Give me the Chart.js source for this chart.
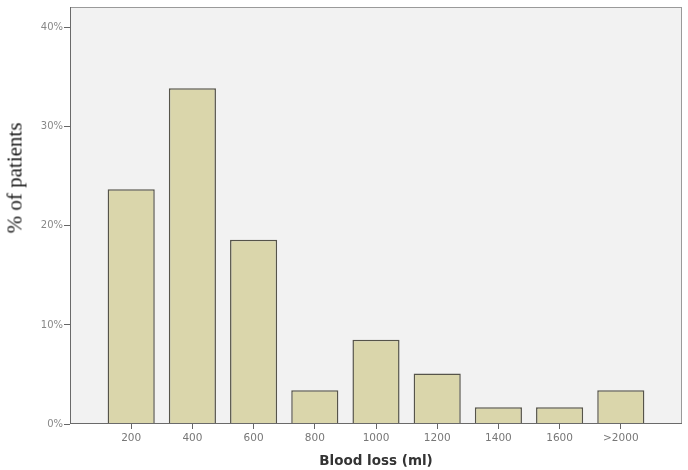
<!DOCTYPE html>
<html>
<head>
<meta charset="utf-8">
<script src="https://cdn.jsdelivr.net/npm/chart.js@4"></script>
<style>
html,body{margin:0;padding:0;background:#fff;}
#wrap{position:relative;width:688px;height:470px;}
#ytitle{position:absolute;left:15px;top:178px;transform:translate(-50%,-50%) rotate(-90deg);font-family:"Liberation Serif",serif;font-size:21px;color:#1a1a1a;white-space:nowrap;}
</style>
</head>
<body>
<div id="wrap">
<canvas id="c" width="688" height="470"></canvas>
<div id="ytitle">% of patients</div>
</div>
<script>
const categories = ['', '200', '400', '600', '800', '1000', '1200', '1400', '1600', '>2000', ''];
const percentPatients = [null, 23.7, 33.9, 18.6, 3.4, 8.5, 5.1, 1.7, 1.7, 3.4, null];
const yTicks = [0, 10, 20, 30, 40];
const xTitle = 'Blood loss (ml)';

const frame = {
  id: 'frame',
  beforeDraw(chart) {
    const {ctx, chartArea: a} = chart;
    ctx.save();
    ctx.fillStyle = '#f2f2f2';
    ctx.fillRect(a.left, a.top, a.right - a.left, a.bottom - a.top);
    ctx.restore();
  },
  afterDraw(chart) {
    const {ctx, chartArea: a} = chart;
    ctx.save();
    ctx.lineWidth = 1;
    ctx.strokeStyle = '#9a9a9a';
    ctx.beginPath();
    ctx.moveTo(a.left, a.top + 0.5); ctx.lineTo(a.right, a.top + 0.5);
    ctx.moveTo(a.right - 0.5, a.top); ctx.lineTo(a.right - 0.5, a.bottom);
    ctx.stroke();
    ctx.strokeStyle = '#6a6a6a';
    ctx.beginPath();
    ctx.moveTo(a.left + 0.5, a.top); ctx.lineTo(a.left + 0.5, a.bottom);
    ctx.moveTo(a.left, a.bottom - 0.5); ctx.lineTo(a.right, a.bottom - 0.5);
    ctx.stroke();
    ctx.restore();
  }
};

new Chart(document.getElementById('c'), {
  type: 'bar',
  data: {
    labels: categories,
    datasets: [{
      data: percentPatients,
      backgroundColor: '#dad6ab',
      borderColor: '#56544a',
      borderWidth: 1.5,
      categoryPercentage: 1,
      barPercentage: 0.77
    }]
  },
  options: {
    responsive: false,
    animation: false,
    layout: {padding: {top: 5, right: 6, left: 0, bottom: 0}},
    plugins: {legend: {display: false}, tooltip: {enabled: false}},
    scales: {
      x: {
        offset: false,
        grid: {
          offset: false,
          drawOnChartArea: false,
          drawTicks: true,
          tickLength: 5,
          tickColor: (c) => (c.index === 0 || c.index === categories.length - 1) ? 'rgba(0,0,0,0)' : '#666'
        },
        border: {display: false},
        ticks: {
          color: '#777',
          font: {family: 'DejaVu Sans', size: 10.5},
          padding: 3,
          maxRotation: 0,
          autoSkip: false
        },
        title: {
          display: true,
          text: xTitle,
          color: '#333',
          font: {family: 'DejaVu Sans', size: 13.5, weight: 'bold'},
          padding: {top: 4, bottom: 0}
        },
        afterFit: (s) => { s.height = 46; }
      },
      y: {
        min: 0,
        max: 42.1,
        grid: {drawOnChartArea: false, drawTicks: true, tickLength: 6, tickColor: '#666'},
        border: {display: false},
        afterBuildTicks: (s) => { s.ticks = yTicks.map(v => ({value: v})); },
        ticks: {
          color: '#888',
          font: {family: 'DejaVu Sans', size: 10},
          padding: 1,
          callback: (v) => v + '%'
        },
        afterFit: (s) => { s.width = 70; }
      }
    }
  },
  plugins: [frame]
});
</script>
</body>
</html>
